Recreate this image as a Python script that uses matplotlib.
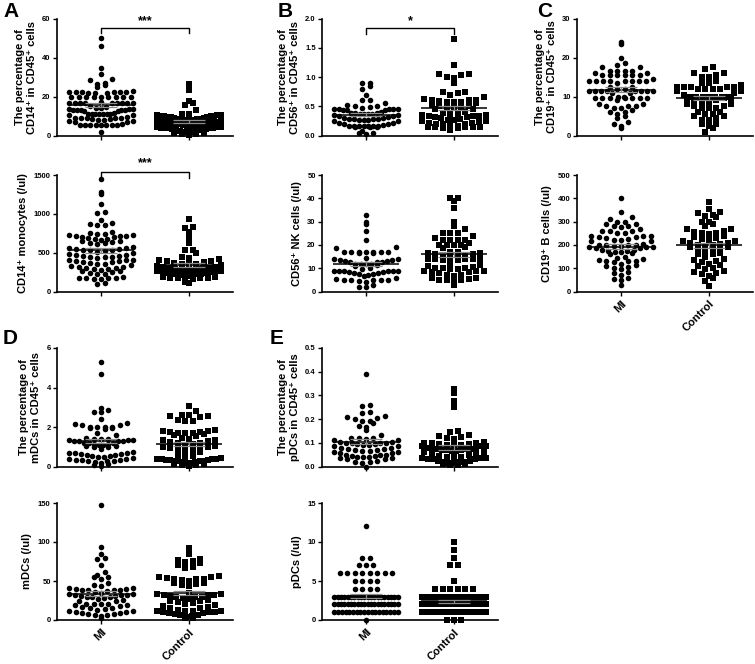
import numpy as np
import matplotlib
matplotlib.use('Agg')
import matplotlib.pyplot as plt

plt.rcParams['font.family'] = ['Liberation Sans', 'DejaVu Sans']
plt.rcParams['font.weight'] = 'bold'

groups = ['MI', 'Control']

# A - CD14
cd14_pct_mi = [50, 46, 34.5, 31.5, 29, 28.5, 27, 26.5, 26, 25, 23,
               22.5, 22.5, 22.5, 22.5, 22.5, 22.5, 22, 22, 22,
               20, 19.5, 19.5, 19.5, 19.5, 19.5, 19.5, 19.5, 19.5,
               17, 16.5, 16.5, 16.5, 16.5, 16.5, 16.5, 16.5, 16.5, 16.5,
               15, 14.5, 14, 14, 13.5, 13.5, 13.5, 13, 13, 13, 13, 13, 12.5, 12.5,
               11.5, 11, 11, 11, 11, 11, 11, 11, 10.5, 10.5,
               9.5, 9, 9, 9, 9, 9, 8.5, 8.5, 8, 8, 7.5, 7.5, 7, 7,
               6, 5.5, 5.5, 5.5, 5.5, 5.5, 5.5, 5.5, 5.5, 2]
cd14_pct_ctrl = [26.5, 23.5, 17.5, 16.5, 15.5, 13,
                 11, 11, 10.5, 10.5, 10.5, 10, 10, 10, 10, 9.5, 9.5, 9.5,
                 9, 9, 8.5, 8.5, 8.5, 8, 8, 8, 8, 8, 7.5, 7.5,
                 7, 7, 7, 6.5, 6.5, 6.5, 6, 6, 6, 6, 5.5, 5.5,
                 5, 5, 4.5, 4.5, 4.5, 4, 4, 4, 4, 4, 3.5, 3.5,
                 3, 3, 3, 2.5, 2.5, 2, 2, 2, 1.5, 1.5, 1, 1, 0.5]
cd14_abs_mi = [1450, 1280, 1250, 1130, 1020, 1010, 920, 880, 870, 860, 850,
               760, 750, 740, 740, 730, 730, 720, 720, 710, 700, 700,
               690, 680, 670, 660, 650, 650, 640, 630, 620, 610,
               570, 560, 560, 550, 550, 540, 540, 530, 520, 510, 500,
               480, 470, 470, 460, 460, 450, 450, 440, 430,
               410, 400, 400, 390, 390, 380, 380, 370, 360, 350,
               340, 330, 320, 310, 300, 300, 290, 290, 280, 270, 260,
               250, 240, 230, 220,
               190, 180, 180, 170, 170, 160, 160, 110, 100]
cd14_abs_ctrl = [930, 830, 820, 760, 700, 620, 540, 540, 490, 450, 430, 420, 400, 390,
                 390, 380, 370, 360, 350, 350,
                 340, 330, 320, 310, 300, 300, 300, 290, 290, 280, 280, 280, 270, 270,
                 260, 260, 260, 250, 250, 240, 240, 230, 230, 220, 220, 210, 210, 200,
                 200, 190, 190, 180, 180, 170, 170, 160, 120, 110]

# B - CD56
cd56_pct_mi = [0.9, 0.9, 0.85, 0.8, 0.7, 0.6, 0.6, 0.55,
               0.52, 0.5, 0.5, 0.48, 0.47, 0.46, 0.46, 0.45, 0.45, 0.45, 0.44, 0.44, 0.43,
               0.4, 0.39, 0.38, 0.38, 0.37, 0.37, 0.36, 0.36, 0.35, 0.35, 0.34, 0.34,
               0.31, 0.3, 0.3, 0.29, 0.29, 0.28, 0.28, 0.27, 0.27, 0.26, 0.25, 0.24,
               0.22, 0.21, 0.2, 0.2,
               0.18, 0.17, 0.17, 0.17, 0.16, 0.16, 0.16, 0.16, 0.15, 0.15, 0.15,
               0.08, 0.05, 0.05, 0.03]
cd56_pct_ctrl = [1.65, 1.2, 1.05, 1.05, 1.04, 1.0, 0.98, 0.9, 0.75, 0.75, 0.72, 0.7, 0.65,
                 0.62, 0.6, 0.6, 0.6, 0.59, 0.58, 0.58, 0.57, 0.55,
                 0.52, 0.5, 0.5, 0.49, 0.48, 0.47, 0.46, 0.45,
                 0.4, 0.38, 0.37, 0.36, 0.35, 0.35, 0.34, 0.33, 0.33, 0.32, 0.31, 0.3,
                 0.28, 0.27, 0.26, 0.25, 0.24, 0.23, 0.22, 0.21, 0.2, 0.2, 0.2,
                 0.17, 0.16, 0.15, 0.15, 0.15, 0.14, 0.14, 0.13, 0.12, 0.1]
cd56_abs_mi = [33, 30, 29, 26, 22, 19, 18.5,
               17, 17, 17, 17, 17, 17, 17, 16.5, 16.5,
               14.5, 14, 14, 13.5, 13.5, 13, 13, 12.5, 12.5, 12.5, 12, 12, 12, 12, 11.5, 11,
               10, 9.5, 9, 9, 9, 9, 9, 9, 8.5, 8.5, 8, 8, 7.5, 7.5,
               7, 6.5, 6, 5.5, 5, 5, 5, 5, 5, 4.5, 4, 3, 2, 2]
cd56_abs_ctrl = [40, 40, 39, 36, 30, 28, 27, 25, 25, 25, 24,
                 23, 22, 22, 22, 22, 21, 20, 20, 20, 20, 19, 18.5,
                 17, 17, 16.5, 16.5, 16, 16, 15.5, 15, 15, 14.5, 14, 14, 14, 14, 14, 13.5, 13.5,
                 12, 11.5, 11, 10.5, 10, 10, 10, 9.5, 9.5, 9, 9, 9, 8.5, 8.5, 8,
                 7, 7, 6.5, 6, 6, 5.5, 5, 5, 5, 4, 3]

# C - CD19
cd19_pct_mi = [24, 23.5, 20, 18.5, 18, 17.5, 17.5,
               16.5, 16.5, 16.5, 16.5, 16, 16, 15.5, 15.5, 15.5, 15.5, 15.5, 15.5,
               14.5, 14, 14, 14, 14, 14, 14, 14, 14, 13.5,
               12.5, 12.5, 12, 12, 11.5, 11.5, 11.5, 11.5, 11.5, 11.5, 11.5, 11.5, 11, 11,
               10, 10, 9.5, 9.5, 9.5, 9.5, 9.5, 9.5, 9.5, 9,
               8, 8, 7.5, 7.5, 7.5, 7, 7, 6.5, 6, 6, 5.5, 5, 4.5, 3.5, 3, 2.5, 2]
cd19_pct_ctrl = [17.5, 17, 16, 16, 15.5, 15, 15, 14, 13.5, 13.5,
                 13, 12.5, 12.5, 12.5, 12.5, 12.5, 12, 12, 12, 12, 11.5, 11.5,
                 11, 10.5, 10, 10, 10, 10, 10, 10, 10, 9.5, 9.5, 9.5,
                 9, 9, 8.5, 8.5, 8, 8, 7.5, 7.5, 7, 7, 7,
                 6, 6, 5.5, 5.5, 5, 5, 4.5, 4, 4, 3, 3, 2.5, 2, 1]
cd19_abs_mi = [400, 340, 320, 310, 300, 300, 290, 290, 280, 280, 275, 270, 260, 260, 260, 250, 250,
               240, 240, 240, 235, 235, 230, 225, 220, 220, 215, 215,
               205, 200, 200, 200, 200, 195, 195, 190, 190, 190, 185, 185, 180, 180, 175, 175,
               170, 170, 165, 160,
               150, 145, 140, 135, 130, 130, 130, 125, 120, 115, 110, 105, 100, 95, 85, 80,
               70, 60, 55, 50, 30]
cd19_abs_ctrl = [385, 355, 340, 335, 330, 325, 320, 300, 300, 290, 280, 270, 270, 260, 255,
                 250, 250, 245, 240, 235, 230, 225, 220, 215, 215, 210, 210, 205, 200, 200,
                 195, 190, 190, 185, 180, 175, 170, 165, 160, 160,
                 150, 140, 135, 130, 125, 120, 115, 110, 100, 95, 90, 85, 80, 75, 65, 60, 45, 25]

# D - mDCs
mdc_pct_mi = [5.3, 4.7, 2.95, 2.85, 2.75, 2.75, 2.4, 2.2, 2.15, 2.1, 2.1,
              2.0, 2.0, 2.0, 2.0, 1.95, 1.95, 1.9, 1.7, 1.6,
              1.45, 1.4, 1.4, 1.4, 1.35, 1.35, 1.35, 1.3, 1.3, 1.3, 1.3,
              1.2, 1.2, 1.2, 1.15, 1.15, 1.1, 1.1, 1.05, 1.05, 1.0, 1.0, 0.9,
              0.75, 0.7, 0.7, 0.7, 0.65, 0.65, 0.6, 0.6, 0.55, 0.55, 0.5, 0.5, 0.45,
              0.4, 0.4, 0.35, 0.35, 0.35, 0.3, 0.3, 0.3, 0.25, 0.2, 0.15, 0.1, 0.05]
mdc_pct_ctrl = [3.05, 2.8, 2.6, 2.6, 2.55, 2.55, 2.5, 2.35, 2.3, 2.3,
                1.85, 1.8, 1.8, 1.75, 1.75, 1.7, 1.7, 1.7, 1.65, 1.6, 1.55,
                1.45, 1.4, 1.35, 1.35, 1.3, 1.25, 1.2, 1.2, 1.15, 1.1,
                1.05, 1.0, 1.0, 0.95, 0.95, 0.9, 0.85, 0.8, 0.75, 0.6, 0.55, 0.5,
                0.45, 0.4, 0.4, 0.4, 0.4, 0.35, 0.35, 0.35, 0.3, 0.3, 0.3, 0.3, 0.25,
                0.25, 0.2, 0.2, 0.15, 0.15, 0.1, 0.1, 0.05]
mdc_abs_mi = [148, 94, 85, 80, 78, 70, 61, 58, 55, 55, 52, 48, 45, 43,
              41, 41, 40, 40, 39, 39, 38, 38, 37, 36, 35,
              33, 33, 32, 32, 32, 31, 31, 30, 30, 29, 28, 27, 26, 25, 24,
              21, 21, 20, 20, 19, 19, 18, 17, 16, 15, 14, 13,
              11, 11, 10, 10, 9, 9, 8, 8, 7, 6, 5, 3]
mdc_abs_ctrl = [92, 84, 78, 77, 76, 75, 73, 70, 68, 67,
                56, 55, 55, 54, 53, 53, 52, 51, 50, 48, 47, 46, 45, 44,
                35, 33, 33, 32, 32, 32, 31, 30, 30, 29, 28, 27, 26, 25, 24, 23, 22,
                20, 19, 18, 17, 16, 15,
                13, 12, 12, 11, 11, 10, 10, 10, 9, 9, 8, 7, 6, 5, 4, 3, 2]

# E - pDCs
pdc_pct_mi = [0.39, 0.26, 0.255, 0.23, 0.225, 0.215, 0.21, 0.205, 0.2, 0.19, 0.19, 0.185,
              0.17, 0.165, 0.155, 0.135,
              0.12, 0.12, 0.12, 0.115, 0.11, 0.11, 0.105, 0.105, 0.1, 0.1, 0.1, 0.1, 0.095, 0.095,
              0.09, 0.09, 0.085, 0.085, 0.08, 0.08, 0.075, 0.075, 0.07, 0.07, 0.065, 0.065, 0.06, 0.06,
              0.055, 0.055, 0.05, 0.05, 0.05, 0.045, 0.045, 0.04, 0.04, 0.04, 0.035, 0.035,
              0.03, 0.03, 0.025, 0.02, 0.02, 0.015, 0.0]
pdc_pct_ctrl = [0.325, 0.31, 0.275, 0.25, 0.15, 0.145, 0.135, 0.13, 0.125, 0.12, 0.115,
                0.105, 0.1, 0.1, 0.1, 0.095, 0.095, 0.09, 0.09, 0.09, 0.085, 0.085, 0.085,
                0.08, 0.08, 0.08, 0.075, 0.075, 0.075,
                0.07, 0.07, 0.07, 0.065, 0.065, 0.06, 0.06, 0.055, 0.055, 0.05,
                0.045, 0.04, 0.04, 0.04, 0.035, 0.035, 0.035, 0.03, 0.03, 0.03, 0.025, 0.025,
                0.02, 0.02, 0.02, 0.015, 0.015, 0.01, 0.01, 0.005, 0.005]
pdc_abs_levels = [0, 1, 2, 3, 4, 5, 6, 7, 8, 9, 10, 12]
pdc_abs_mi_counts = [1, 18, 20, 20, 4, 4, 8, 3, 2, 0, 0, 1]
pdc_abs_ctrl_counts = [3, 24, 25, 18, 6, 1, 0, 2, 1, 1, 1, 0]
pdc_abs_mi = np.repeat(pdc_abs_levels, pdc_abs_mi_counts)
pdc_abs_ctrl = np.repeat(pdc_abs_levels, pdc_abs_ctrl_counts)

W, H = 755, 664
fig = plt.figure(figsize=(W / 100, H / 100), dpi=100)

col_left = [57, 322, 577]
row_span = [(18.5, 135.5), (175, 291.5), (348, 466.5), (503, 620)]
ax_w = 176

def make_ax(col, row):
    top, bot = row_span[row]
    return fig.add_axes([col_left[col] / W, 1 - bot / H, ax_w / W, (bot - top) / H])

def swarm(ax, vals, xc, marker, s, binh, maxhalf=0.36, dx=0.085):
    vals = np.asarray(vals, float)
    bins = np.round(vals / binh).astype(int)
    xs = np.zeros_like(vals)
    for b in np.unique(bins):
        idx = np.where(bins == b)[0]
        idx = idx[np.argsort(vals[idx], kind='stable')]
        n = len(idx)
        step = dx if n < 2 else min(dx, 2 * maxhalf / (n - 1))
        offs = (np.arange(n) - (n - 1) / 2) * step
        order = np.argsort(np.abs(offs), kind='stable')
        xs[idx] = xc + offs[order]
    ax.scatter(xs, vals, marker=marker, s=s, color='black', linewidths=0, zorder=2, clip_on=False)
    m = vals.mean()
    se = vals.std(ddof=1) / np.sqrt(len(vals))
    ax.hlines(m, xc - 0.37, xc + 0.37, color='black', lw=1.1, zorder=3)
    ax.vlines(xc, m - se, m + se, color='0.55', lw=0.9, zorder=3)
    ax.hlines([m - se, m + se], xc - 0.18, xc + 0.18, color='0.55', lw=0.9, zorder=3)

def panel(col, row, mi, ctrl, ytop, yticks, ylabel, fmt='{:g}', xlabels=False):
    ax = make_ax(col, row)
    top, bot = row_span[row]
    binh = 6.0 / (bot - top) * ytop
    swarm(ax, mi, 0, 'o', 16, binh)
    swarm(ax, ctrl, 1, 's', 14, binh)
    ax.set_xlim(-0.5, 1.5)
    ax.set_ylim(0, ytop)
    ax.set_yticks(yticks)
    ax.set_yticklabels([fmt.format(t) for t in yticks])
    ax.set_xticks([0, 1])
    if xlabels:
        ax.set_xticklabels(groups, rotation=45, ha='right', rotation_mode='anchor',
                           fontsize=8, fontweight='bold')
    else:
        ax.set_xticklabels(['', ''])
    for sp in ['top', 'right']:
        ax.spines[sp].set_visible(False)
    for sp in ['left', 'bottom']:
        ax.spines[sp].set_linewidth(1.2)
    ax.tick_params(axis='y', labelsize=5.5, width=1, length=3, pad=1.5)
    ax.tick_params(axis='x', width=1, length=3, pad=2)
    ax.set_ylabel(ylabel, fontsize=8, fontweight='bold', labelpad=4)
    return ax

def bracket(ax, y, ydrop, text, ytext):
    ax.plot([0, 0, 1, 1], [ydrop, y, y, ydrop], color='black', lw=1, clip_on=False)
    ax.text(0.5, ytext, text, ha='center', va='center', fontsize=9,
            fontweight='bold', clip_on=False)

ax = panel(0, 0, cd14_pct_mi, cd14_pct_ctrl, 60, [0, 20, 40, 60],
           'The percentage of\nCD14⁺ in CD45⁺ cells')
bracket(ax, 55.3, 52.4, '***', 58.6)
ax = panel(0, 1, cd14_abs_mi, cd14_abs_ctrl, 1500, [0, 500, 1000, 1500],
           'CD14⁺ monocytes (/ul)')
bracket(ax, 1545, 1460, '***', 1650)

ax = panel(1, 0, cd56_pct_mi, cd56_pct_ctrl, 2.0, [0, 0.5, 1.0, 1.5, 2.0],
           'The percentage of\nCD56⁺ in CD45⁺ cells', fmt='{:.1f}')
bracket(ax, 1.83, 1.73, '*', 1.96)
panel(1, 1, cd56_abs_mi, cd56_abs_ctrl, 50, [0, 10, 20, 30, 40, 50],
      'CD56⁺ NK cells (/ul)')

panel(2, 0, cd19_pct_mi, cd19_pct_ctrl, 30, [0, 10, 20, 30],
      'The percentage of\nCD19⁺ in CD45⁺ cells')
panel(2, 1, cd19_abs_mi, cd19_abs_ctrl, 500, [0, 100, 200, 300, 400, 500],
      'CD19⁺ B cells (/ul)', xlabels=True)

panel(0, 2, mdc_pct_mi, mdc_pct_ctrl, 6, [0, 2, 4, 6],
      'The percentage of\nmDCs in CD45⁺ cells')
panel(0, 3, mdc_abs_mi, mdc_abs_ctrl, 150, [0, 50, 100, 150],
      'mDCs (/ul)', xlabels=True)

panel(1, 2, pdc_pct_mi, pdc_pct_ctrl, 0.5, [0, 0.1, 0.2, 0.3, 0.4, 0.5],
      'The percentage of\npDCs in CD45⁺ cells', fmt='{:.1f}')
panel(1, 3, pdc_abs_mi, pdc_abs_ctrl, 15, [0, 5, 10, 15],
      'pDCs (/ul)', xlabels=True)

for letter, x, y in [('A', 3, 2), ('B', 278, 2), ('C', 537, 2), ('D', 3, 329), ('E', 270, 329)]:
    fig.text(x / W, 1 - y / H, letter, fontsize=15, fontweight='bold', va='top', ha='left')

fig.savefig('out.png', dpi=100)
